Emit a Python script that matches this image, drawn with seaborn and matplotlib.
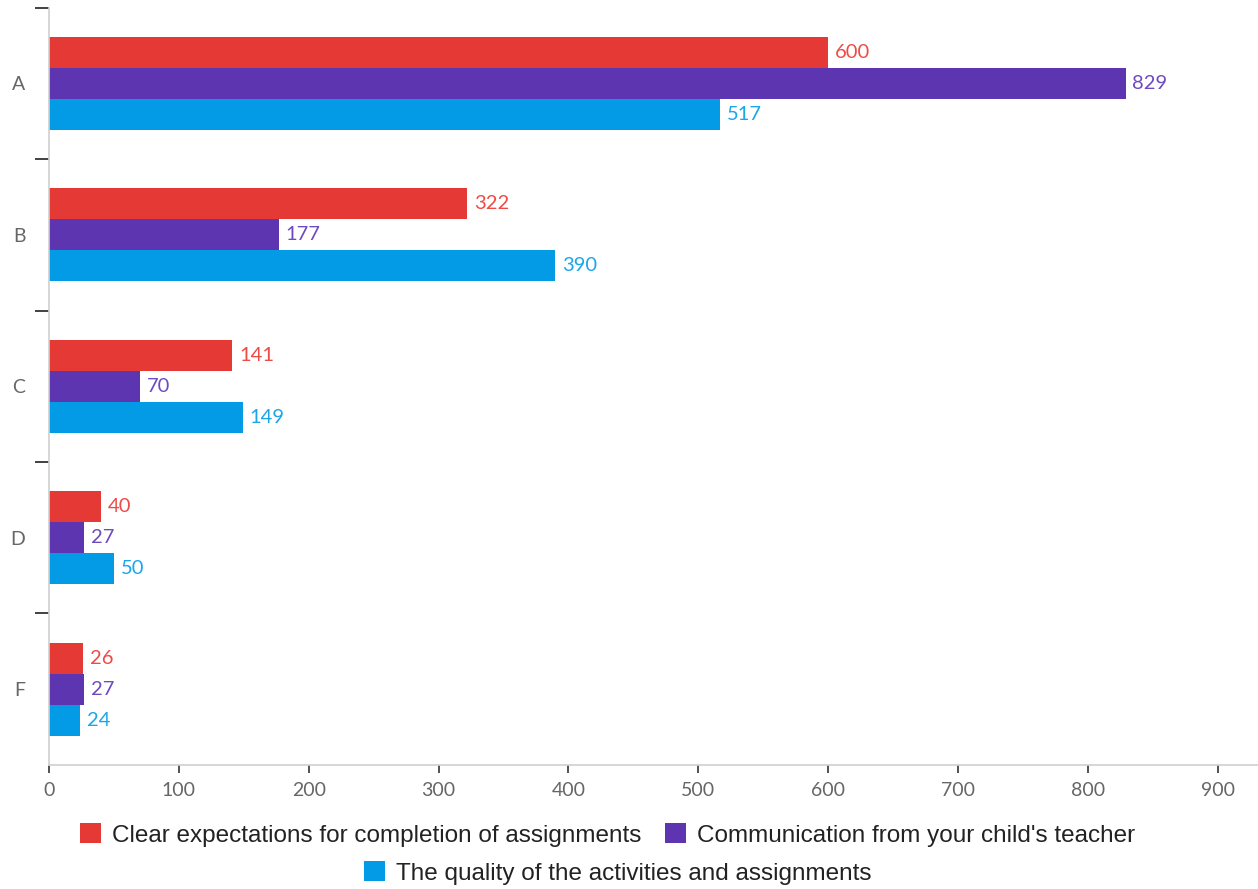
import matplotlib
matplotlib.use("Agg")
import matplotlib.pyplot as plt
import seaborn as sns
import pandas as pd
from matplotlib.patches import Patch

categories = ["A", "B", "C", "D", "F"]
series_names = [
    "Clear expectations for completion of assignments",
    "Communication from your child's teacher",
    "The quality of the activities and assignments",
]
clear_vals = [600, 322, 141, 40, 26]
comm_vals = [829, 177, 70, 27, 27]
quality_vals = [517, 390, 149, 50, 24]
colors = ["#E53935", "#5E35B1", "#039BE5"]
label_colors = ["#EF4A46", "#6E4AC0", "#1BA6EA"]
x_ticks = [0, 100, 200, 300, 400, 500, 600, 700, 800, 900]

rows = []
for name, vals in zip(series_names, [clear_vals, comm_vals, quality_vals]):
    for c, v in zip(categories, vals):
        rows.append({"grade": c, "value": v, "series": name})
df = pd.DataFrame(rows)

sns.set_theme(style="white")
plt.rcParams["font.family"] = ["Lato", "DejaVu Sans"]

fig = plt.figure(figsize=(12.58, 8.89), dpi=100)
ax = fig.add_axes([0.039, 0.1395, 0.961, 0.852])

sns.barplot(data=df, y="grade", x="value", hue="series", order=categories,
            hue_order=series_names, palette=colors, orient="h", width=0.615,
            saturation=1, ax=ax, legend=False, edgecolor="none")

for cont, lc in zip(ax.containers, label_colors):
    ax.bar_label(cont, padding=5, color=lc, fontsize=14.5, family="Lato")

ax.set_xlim(0, 931)
ax.set_ylim(4.5, -0.5)
ax.set_xticks(x_ticks)
ax.set_xticklabels([str(t) for t in x_ticks], color="#666666", fontsize=14)
ax.set_yticks(range(len(categories)))
ax.set_yticklabels(categories, color="#666666", fontsize=14)
ax.tick_params(axis="y", length=0, pad=17)
ax.tick_params(axis="x", length=6, width=1.2, color="#333333", pad=6, direction="out")
ax.set_yticks([-0.5, 0.5, 1.5, 2.5, 3.5], minor=True)
ax.tick_params(axis="y", which="minor", length=10, width=1.3, color="#333333", left=True)
ax.xaxis.set_ticks_position("bottom")
ax.set_xlabel("")
ax.set_ylabel("")
for s in ["top", "right"]:
    ax.spines[s].set_visible(False)
for s in ["left", "bottom"]:
    ax.spines[s].set_color("#d0d0d0")
    ax.spines[s].set_linewidth(1.2)

handles = [Patch(facecolor=c, edgecolor="none") for c in colors]
leg_kw = dict(frameon=False, handlelength=0.85, handleheight=0.85,
              handletextpad=0.45, columnspacing=1.0,
              prop={"family": "Liberation Sans", "size": 17.5})
l1 = fig.legend(handles[:2], series_names[:2], loc="center", ncol=2,
                bbox_to_anchor=(0.483, 0.0607), borderpad=0, **leg_kw)
for t in l1.get_texts():
    t.set_color("#222222")
l2 = fig.legend(handles[2:], series_names[2:], loc="center", ncol=1,
                bbox_to_anchor=(0.491, 0.018), borderpad=0, **leg_kw)
for t in l2.get_texts():
    t.set_color("#222222")

fig.savefig("out.png", dpi=100)
